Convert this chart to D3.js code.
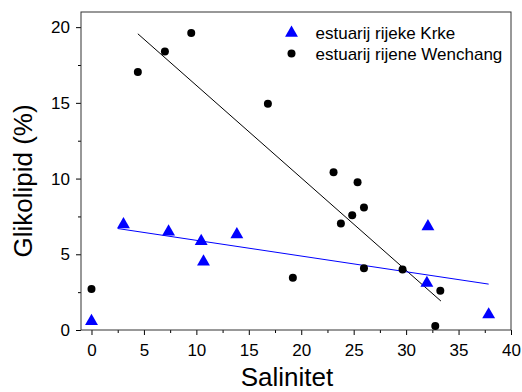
<!DOCTYPE html>
<html lang="en">
<head>
    <meta charset="UTF-8">
    <script src="https://d3js.org/d3.v7.min.js"></script>
    <title>Glikolipid vs Salinitet</title>
    <style>
        body { margin: 0; background: #fff; }
        text { font-family: "Liberation Sans", Arial, sans-serif; }
    </style>
</head>
<body>
    <script>
        var w = 522;
        var h = 392;

        // Krka estuary (triangles)
        var krkaX = [0, 3.05, 7.35, 10.46, 10.68, 13.86, 32.08, 31.98, 37.87];
        var krkaY = [0.65, 7.03, 6.55, 5.93, 4.57, 6.37, 6.9, 3.16, 1.08];
        // Wenchang estuary (circles)
        var wenX = [4.42, 7.0, 9.51, 16.82, 0, 19.2, 23.08, 23.78, 24.86, 25.37, 25.98, 25.98, 29.66, 33.26, 32.78];
        var wenY = [17.03, 18.39, 19.62, 14.94, 2.7, 3.45, 10.42, 7.03, 7.58, 9.76, 8.09, 4.07, 4.0, 2.59, 0.26];
        // fit lines: [x start, x end], [y start, y end]
        var krkaFitX = [2.5, 37.87];
        var krkaFitY = [6.7, 3.03];
        var wenFitX = [4.42, 33.32];
        var wenFitY = [19.56, 1.91];

        var xTicks = [0, 5, 10, 15, 20, 25, 30, 35, 40];
        var yTicks = [0, 5, 10, 15, 20];
        var seriesNames = ["estuarij rijeke Krke", "estuarij rijene Wenchang"];

        var pLeft = 81, pRight = 511, pTop = 12, pBottom = 330;

        var x = d3.scaleLinear().domain([-1, 40]).range([pLeft, pRight]);
        var y = d3.scaleLinear().domain([0, 21]).range([pBottom, pTop]);

        var svg = d3.select("body")
                    .append("svg")
                    .attr("width", w)
                    .attr("height", h);

        // minor ticks
        svg.append("g")
            .attr("transform", "translate(0," + pBottom + ")")
            .call(d3.axisBottom(x).tickValues(d3.range(2.5, 40, 5)).tickSize(3).tickFormat(""))
            .call(function(g) { g.select(".domain").remove(); });
        svg.append("g")
            .attr("transform", "translate(" + pLeft + ",0)")
            .call(d3.axisLeft(y).tickValues(d3.range(2.5, 21, 5)).tickSize(3).tickFormat(""))
            .call(function(g) { g.select(".domain").remove(); });

        // major ticks
        var xAxis = svg.append("g")
            .attr("transform", "translate(0," + pBottom + ")")
            .call(d3.axisBottom(x).tickValues(xTicks).tickSize(5).tickPadding(9));
        xAxis.select(".domain").remove();
        xAxis.selectAll("text").attr("font-size", 17).attr("fill", "#000")
            .attr("font-family", "Liberation Sans, Arial, sans-serif");

        var yAxis = svg.append("g")
            .attr("transform", "translate(" + pLeft + ",0)")
            .call(d3.axisLeft(y).tickValues(yTicks).tickSize(5).tickPadding(6));
        yAxis.select(".domain").remove();
        yAxis.selectAll("text").attr("font-size", 17).attr("fill", "#000")
            .attr("font-family", "Liberation Sans, Arial, sans-serif");

        // frame
        svg.append("rect")
            .attr("x", pLeft).attr("y", pTop)
            .attr("width", pRight - pLeft).attr("height", pBottom - pTop)
            .attr("fill", "none").attr("stroke", "#333").attr("stroke-width", 1);

        // fit lines
        svg.append("line")
            .attr("x1", x(wenFitX[0])).attr("y1", y(wenFitY[0]))
            .attr("x2", x(wenFitX[1])).attr("y2", y(wenFitY[1]))
            .attr("stroke", "#000").attr("stroke-width", 1);
        svg.append("line")
            .attr("x1", x(krkaFitX[0])).attr("y1", y(krkaFitY[0]))
            .attr("x2", x(krkaFitX[1])).attr("y2", y(krkaFitY[1]))
            .attr("stroke", "#0000ff").attr("stroke-width", 1);

        var tri = d3.symbol().type(d3.symbolTriangle).size(72);

        // wenchang circles
        svg.selectAll("circle.wen")
            .data(wenX)
            .enter()
            .append("circle")
            .attr("class", "wen")
            .attr("cx", function(d) { return x(d); })
            .attr("cy", function(d, i) { return y(wenY[i]); })
            .attr("r", 4)
            .attr("fill", "#000");

        // krka triangles
        svg.selectAll("path.krka")
            .data(krkaX)
            .enter()
            .append("path")
            .attr("class", "krka")
            .attr("d", tri)
            .attr("transform", function(d, i) {
                return "translate(" + x(d) + "," + (y(krkaY[i]) + 1) + ")";
            })
            .attr("fill", "#0000ff");

        // legend
        var legend = svg.append("g");
        legend.append("path")
            .attr("d", tri)
            .attr("transform", "translate(291.5,33)")
            .attr("fill", "#0000ff");
        legend.append("circle")
            .attr("cx", 291.5).attr("cy", 53.5).attr("r", 4).attr("fill", "#000");
        legend.selectAll("text")
            .data(seriesNames)
            .enter()
            .append("text")
            .attr("x", 315.5)
            .attr("y", function(d, i) { return 38.5 + i * 21; })
            .attr("font-size", 17)
            .text(function(d) { return d; });

        // axis titles
        svg.append("text")
            .attr("x", 287).attr("y", 386)
            .attr("text-anchor", "middle")
            .attr("font-size", 26)
            .text("Salinitet");
        svg.append("text")
            .attr("transform", "translate(32,181) rotate(-90)")
            .attr("text-anchor", "middle")
            .attr("font-size", 26)
            .text("Glikolipid (%)");
    </script>
</body>
</html>
